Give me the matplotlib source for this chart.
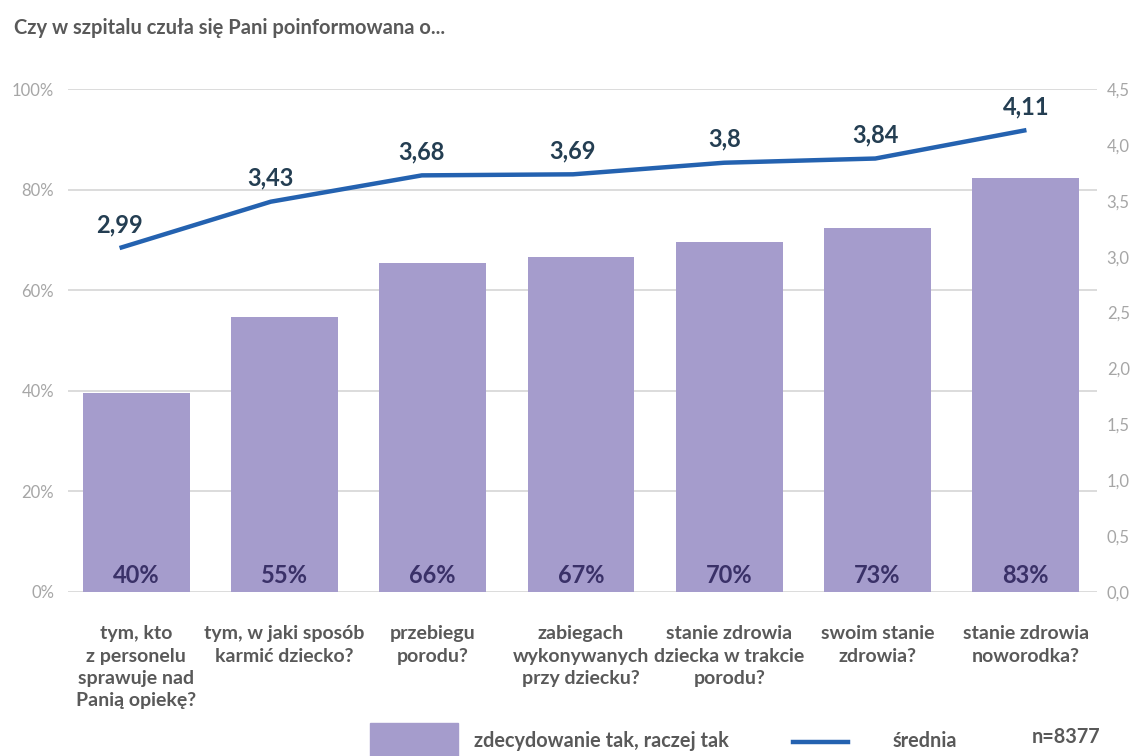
import numpy as np
import matplotlib.pyplot as plt
from matplotlib.patches import Rectangle
from matplotlib.lines import Line2D

categories = [
    "tym, kto\nz personelu\nsprawuje nad\nPanią opiekę?",
    "tym, w jaki sposób\nkarmić dziecko?",
    "przebiegu\nporodu?",
    "zabiegach\nwykonywanych\nprzy dziecku?",
    "stanie zdrowia\ndziecka w trakcie\nporodu?",
    "swoim stanie\nzdrowia?",
    "stanie zdrowia\nnoworodka?",
]
share_yes = [39.5, 54.6, 65.5, 66.6, 69.5, 72.3, 82.4]
share_labels = ["40%", "55%", "66%", "67%", "70%", "73%", "83%"]
mean_score = [2.99, 3.43, 3.68, 3.69, 3.80, 3.84, 4.11]
mean_labels = ["2,99", "3,43", "3,68", "3,69", "3,8", "3,84", "4,11"]

bar_color = "#A59CCC"
line_color = "#2462B0"
grey_tick = "#A6A6A6"
grey_text = "#595959"

plt.rcParams["font.family"] = ["Lato", "DejaVu Sans"]

W, H = 1132, 756
fig = plt.figure(figsize=(W / 100, H / 100), dpi=100)

# main axes (bars, left %) -- pixel box 68..1097 x 89..592
ax = fig.add_axes([68 / W, (H - 592) / H, 1029 / W, 503 / H])
x = np.arange(len(categories))
ax.bar(x, share_yes, width=0.72, color=bar_color, zorder=2)
for xi, lab in zip(x, share_labels):
    ax.text(xi, 3.2, lab, ha="center", va="center", fontsize=17,
            fontweight="bold", color="#3A3168", zorder=3)

ax.set_xlim(-0.46, 6.48)
ax.set_ylim(0, 100)
ax.set_yticks(np.arange(0, 101, 20))
ax.set_yticklabels([f"{v}%" for v in range(0, 101, 20)])
ax.grid(axis="y", color="#D9D9D9", linewidth=1.3, zorder=0)
ax.set_xticks(x)
ax.set_xticklabels(categories, fontsize=14, fontweight="bold", color=grey_text,
                   linespacing=1.38, va="top")
ax.tick_params(axis="x", length=0, pad=24)
ax.tick_params(axis="y", length=0, labelsize=12, labelcolor=grey_tick, pad=10)
for s in ax.spines.values():
    s.set_visible(False)

# right axis ticks 0..4,5
ax2 = ax.twinx()
ax2.set_ylim(0, 4.5)
ax2.set_yticks(np.arange(0, 4.51, 0.5))
ax2.set_yticklabels([f"{v:.1f}".replace(".", ",") for v in np.arange(0, 4.51, 0.5)])
ax2.tick_params(axis="y", length=0, labelsize=12, labelcolor=grey_tick, pad=7)
for s in ax2.spines.values():
    s.set_visible(False)

# line sits in a slightly shifted overlay, as in the source chart
axl = fig.add_axes([44 / W, (H - 563) / H, 1058 / W, 474 / H])
axl.patch.set_visible(False)
axl.plot(x, mean_score, color=line_color, linewidth=3.2, solid_capstyle="butt")
for xi, yi, lab in zip(x, mean_score, mean_labels):
    axl.annotate(lab, (xi, yi), xytext=(0, 17), textcoords="offset points",
                 ha="center", va="center", fontsize=17, fontweight="bold",
                 color="#243E52")
axl.set_xlim(-0.5, len(categories) - 0.5)
axl.set_ylim(0, 4.5)
axl.axis("off")

# title
fig.text(14 / W, 1 - 28 / H, "Czy w szpitalu czuła się Pani poinformowana o...",
         fontsize=14.5, fontweight="bold", color=grey_text, va="center")

# legend
fig.add_artist(Rectangle((370 / W, 0), 88 / W, 33 / H, transform=fig.transFigure,
                         color=bar_color))
fig.text(474 / W, 15 / H, "zdecydowanie tak, raczej tak", fontsize=14.3,
         fontweight="bold", color=grey_text, va="center")
fig.add_artist(Line2D([793 / W, 848 / W], [14 / H, 14 / H], transform=fig.transFigure,
                      color=line_color, linewidth=3.2))
fig.text(893 / W, 15 / H, "średnia", fontsize=14.3, fontweight="bold",
         color=grey_text, va="center")
fig.text(1032 / W, 19 / H, "n=8377", fontsize=14.3, fontweight="bold",
         color=grey_text, va="center")

fig.savefig("out.png", dpi=100)
